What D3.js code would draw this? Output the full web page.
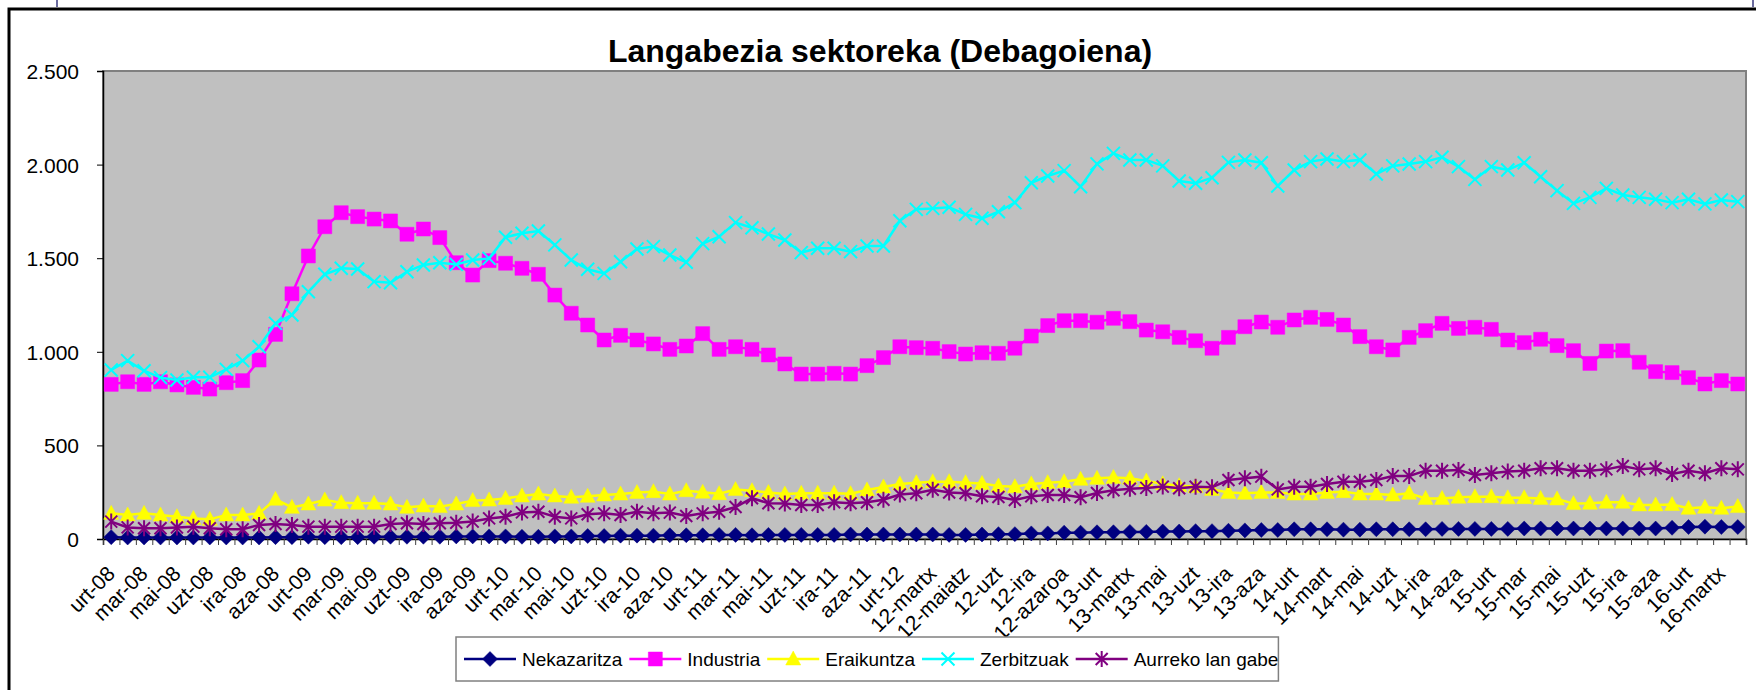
<!DOCTYPE html>
<html>
<head>
<meta charset="utf-8">
<script src="https://cdn.jsdelivr.net/npm/d3@7/dist/d3.min.js"></script>
<style>
body { margin: 0; background: #fff; }
svg text { font-family: "Liberation Sans", Arial, sans-serif; fill: #000; }
</style>
</head>
<body>
<div id="chart"></div>
<script>
// x labels, shown on every 2nd month (urt-08 .. 16-martx); the series run to apr-16
let tickLabels = ["urt-08", "mar-08", "mai-08", "uzt-08", "ira-08", "aza-08",
    "urt-09", "mar-09", "mai-09", "uzt-09", "ira-09", "aza-09",
    "urt-10", "mar-10", "mai-10", "uzt-10", "ira-10", "aza-10",
    "urt-11", "mar-11", "mai-11", "uzt-11", "ira-11", "aza-11",
    "urt-12", "12-martx", "12-maiatz", "12-uzt", "12-ira", "12-azaroa",
    "13-urt", "13-martx", "13-mai", "13-uzt", "13-ira", "13-aza",
    "14-urt", "14-mart", "14-mai", "14-uzt", "14-ira", "14-aza",
    "15-urt", "15-mar", "15-mai", "15-uzt", "15-ira", "15-aza",
    "16-urt", "16-martx"];

let nekazaritza = [10, 8, 8, 8, 8, 8, 8, 8, 8, 8, 10, 10,
    12, 10, 10, 10, 12, 12, 12, 12, 12, 14, 14, 14,
    14, 12, 12, 14, 14, 16, 16, 18, 18, 18, 20, 20,
    20, 22, 22, 20, 22, 22, 22, 22, 22, 24, 24, 24,
    24, 24, 24, 22, 22, 24, 26, 26, 30, 30, 34, 34,
    36, 36, 38, 38, 40, 40, 42, 42, 44, 46, 48, 48,
    52, 52, 52, 50, 50, 52, 52, 52, 52, 54, 54, 54,
    54, 54, 56, 56, 56, 56, 56, 56, 56, 56, 56, 60,
    64, 66, 64, 64];

let industria = [826, 840, 826, 840, 823, 810, 801, 835, 846, 956, 1093, 1310,
    1512, 1668, 1743, 1722, 1709, 1699, 1628, 1656, 1610, 1476, 1410, 1487,
    1473, 1446, 1414, 1303, 1206, 1143, 1063, 1088, 1063, 1042, 1013, 1031,
    1097, 1013, 1027, 1013, 983, 935, 881, 881, 885, 881, 926, 969,
    1027, 1022, 1019, 1001, 988, 995, 992, 1019, 1084, 1140, 1166, 1166,
    1158, 1179, 1161, 1116, 1107, 1077, 1059, 1019, 1077, 1134, 1159, 1131,
    1170, 1184, 1173, 1143, 1081, 1027, 1010, 1077, 1113, 1152, 1125, 1131,
    1120, 1063, 1049, 1067, 1033, 1006, 938, 1004, 1006, 944, 894, 889,
    862, 828, 846, 828];

let eraikuntza = [137, 128, 137, 128, 119, 110, 105, 128, 128, 137, 212, 169,
    187, 208, 194, 191, 191, 187, 169, 176, 173, 187, 205, 208,
    217, 230, 240, 230, 223, 228, 235, 240, 248, 253, 240, 258,
    250, 242, 264, 258, 248, 240, 244, 245, 245, 242, 262, 278,
    294, 301, 306, 306, 301, 297, 283, 279, 294, 301, 306, 319,
    324, 329, 325, 310, 295, 285, 280, 265, 248, 244, 248, 248,
    240, 240, 248, 253, 240, 240, 235, 244, 217, 217, 223, 226,
    226, 220, 221, 217, 214, 189, 191, 196, 196, 182, 182, 184,
    164, 169, 164, 173];

let zerbitzuak = [903, 953, 899, 862, 849, 864, 864, 906, 953, 1027, 1152, 1197,
    1321, 1414, 1446, 1442, 1375, 1369, 1428, 1464, 1476, 1467, 1490, 1499,
    1612, 1633, 1645, 1571, 1490, 1441, 1419, 1481, 1549, 1562, 1517, 1478,
    1578, 1615, 1690, 1663, 1629, 1597, 1530, 1553, 1553, 1535, 1565, 1565,
    1700, 1761, 1766, 1772, 1734, 1713, 1748, 1797, 1903, 1939, 1968, 1882,
    2004, 2060, 2025, 2025, 1993, 1912, 1900, 1930, 2012, 2025, 2010, 1886,
    1971, 2016, 2030, 2016, 2025, 1950, 1993, 2003, 2016, 2039, 1989, 1921,
    1989, 1971, 2010, 1935, 1861, 1793, 1825, 1873, 1838, 1825, 1815, 1797,
    1815, 1790, 1811, 1802];

let aurrekoLanGabe = [93, 62, 57, 57, 61, 66, 57, 52, 52, 75, 80, 75,
    66, 66, 66, 66, 66, 80, 84, 80, 84, 87, 93, 110,
    119, 142, 146, 119, 110, 132, 137, 128, 146, 137, 141, 123,
    137, 146, 171, 218, 191, 189, 182, 182, 196, 191, 196, 210,
    238, 244, 263, 248, 244, 228, 224, 208, 228, 235, 235, 223,
    246, 260, 268, 273, 280, 271, 279, 276, 315, 324, 333, 265,
    279, 279, 294, 306, 306, 315, 337, 337, 365, 365, 369, 342,
    351, 360, 365, 378, 378, 365, 365, 372, 390, 372, 378, 347,
    365, 351, 378, 372];

let seriesNames = ["Nekazaritza", "Industria", "Eraikuntza", "Zerbitzuak", "Aurreko lan gabe"];
let seriesColors = ["#000080", "#FF00FF", "#FFFF00", "#00FFFF", "#800080"];
let seriesMarkers = ["diamond", "square", "triangle", "cross", "star"];
let yTicks = [0, 500, 1000, 1500, 2000, 2500];

let series = [nekazaritza, industria, eraikuntza, zerbitzuak, aurrekoLanGabe].map(function(values, i) {
    return {name: seriesNames[i], color: seriesColors[i], marker: seriesMarkers[i], values: values};
});

let svgWidth = 1756, svgHeight = 690;
let plot = {left: 103, right: 1746, top: 71, bottom: 539};

let svg = d3.select("#chart").append("svg")
    .attr("width", svgWidth)
    .attr("height", svgHeight);

// outer chart frame
svg.append("rect")
    .attr("x", 9).attr("y", 9)
    .attr("width", svgWidth + 20).attr("height", svgHeight + 20)
    .attr("fill", "#fff")
    .attr("stroke", "#000")
    .attr("stroke-width", 3);

// little page markers above the frame
svg.append("line").attr("x1", 57).attr("x2", 57).attr("y1", 0).attr("y2", 7)
    .attr("stroke", "#6b6b9e").attr("stroke-width", 2);
svg.append("line").attr("x1", 1753).attr("x2", 1753).attr("y1", 0).attr("y2", 7)
    .attr("stroke", "#6b6b9e").attr("stroke-width", 2);

let x = d3.scaleBand()
    .domain(d3.range(industria.length))
    .range([plot.left, plot.right]);
let xEdge = d3.scaleLinear()
    .domain([0, industria.length])
    .range([plot.left, plot.right]);
let y = d3.scaleLinear()
    .domain([0, 2500])
    .range([plot.bottom, plot.top]);

let locale = d3.formatLocale({decimal: ",", thousands: ".", grouping: [3], currency: ["", ""]});
let fmt = locale.format(",d");

// plot area
svg.append("rect")
    .attr("x", plot.left).attr("y", plot.top)
    .attr("width", plot.right - plot.left).attr("height", plot.bottom - plot.top)
    .attr("fill", "#C0C0C0")
    .attr("stroke", "#808080")
    .attr("stroke-width", 2);

// title
svg.append("text")
    .attr("x", 880).attr("y", 62)
    .attr("text-anchor", "middle")
    .attr("font-size", "32px")
    .attr("font-weight", "bold")
    .text("Langabezia sektoreka (Debagoiena)");

// y axis
let yAxis = svg.append("g")
    .attr("transform", "translate(" + plot.left + ",0)")
    .call(d3.axisLeft(y).tickValues(yTicks).tickSize(6).tickPadding(18).tickFormat(fmt));
yAxis.selectAll("text").attr("font-size", "21px").attr("dy", "0.36em");
yAxis.select(".domain").attr("stroke", "#000").attr("stroke-width", 1.5);

// x axis: ticks on month boundaries, labels every 2nd month
let xTicks = svg.append("g")
    .attr("transform", "translate(0," + plot.bottom + ")")
    .call(d3.axisBottom(xEdge).tickValues(d3.range(industria.length + 1)).tickSize(6).tickFormat(""));
xTicks.select(".domain").attr("stroke", "#000").attr("stroke-width", 1.5);
xTicks.selectAll(".tick line").attr("stroke", "#404040");

let xLabels = svg.append("g")
    .attr("transform", "translate(0," + plot.bottom + ")")
    .call(d3.axisBottom(x)
        .tickValues(tickLabels.map(function(d, i) { return i * 2; }))
        .tickSize(0)
        .tickFormat(function(d) { return tickLabels[d / 2]; }));
xLabels.select(".domain").remove();
xLabels.selectAll("text")
    .attr("font-size", "21px")
    .attr("text-anchor", "end")
    .attr("x", 0).attr("y", 0).attr("dy", null)
    .attr("transform", "translate(5,36) rotate(-45)");

function markerPath(type) {
    if (type === "diamond") return "M0,-7.5L7.5,0L0,7.5L-7.5,0Z";
    if (type === "square") return "M-7,-7H7V7H-7Z";
    if (type === "triangle") return "M0,-8L7.5,6L-7.5,6Z";
    if (type === "cross") return "M-6.5,-6.5L6.5,6.5M-6.5,6.5L6.5,-6.5";
    return "M-6,-6L6,6M-6,6L6,-6M0,-8L0,8";
}
function drawMarker(g, s) {
    let filled = s.marker === "diamond" || s.marker === "square" || s.marker === "triangle";
    return g.append("path")
        .attr("d", markerPath(s.marker))
        .attr("fill", filled ? s.color : "none")
        .attr("stroke", s.color)
        .attr("stroke-width", filled ? 0.5 : 2);
}

let line = d3.line()
    .x(function(d, i) { return x(i) + x.bandwidth() / 2; })
    .y(function(d) { return y(d); });

series.forEach(function(s) {
    let g = svg.append("g");
    g.append("path")
        .datum(s.values)
        .attr("d", line)
        .attr("fill", "none")
        .attr("stroke", s.color)
        .attr("stroke-width", 2.5);
    g.selectAll("g.pt")
        .data(s.values)
        .enter().append("g")
        .attr("class", "pt")
        .attr("transform", function(d, i) {
            return "translate(" + (x(i) + x.bandwidth() / 2) + "," + y(d) + ")";
        })
        .each(function() { drawMarker(d3.select(this), s); });
});

// legend
let legend = svg.append("g");
let legendBox = legend.append("rect")
    .attr("x", 456).attr("y", 637)
    .attr("height", 44)
    .attr("fill", "#fff")
    .attr("stroke", "#808080")
    .attr("stroke-width", 1.5);
let lx = 464, ly = 659;
series.forEach(function(s) {
    legend.append("line")
        .attr("x1", lx).attr("x2", lx + 52)
        .attr("y1", ly).attr("y2", ly)
        .attr("stroke", s.color)
        .attr("stroke-width", 2.5);
    drawMarker(legend.append("g").attr("transform", "translate(" + (lx + 26) + "," + ly + ")"), s);
    let t = legend.append("text")
        .attr("x", lx + 58).attr("y", ly)
        .attr("dy", "0.36em")
        .attr("font-size", "19px")
        .text(s.name);
    lx = lx + 58 + t.node().getComputedTextLength() + 7;
});
legendBox.attr("width", lx - 7 - 456);
</script>
</body>
</html>
